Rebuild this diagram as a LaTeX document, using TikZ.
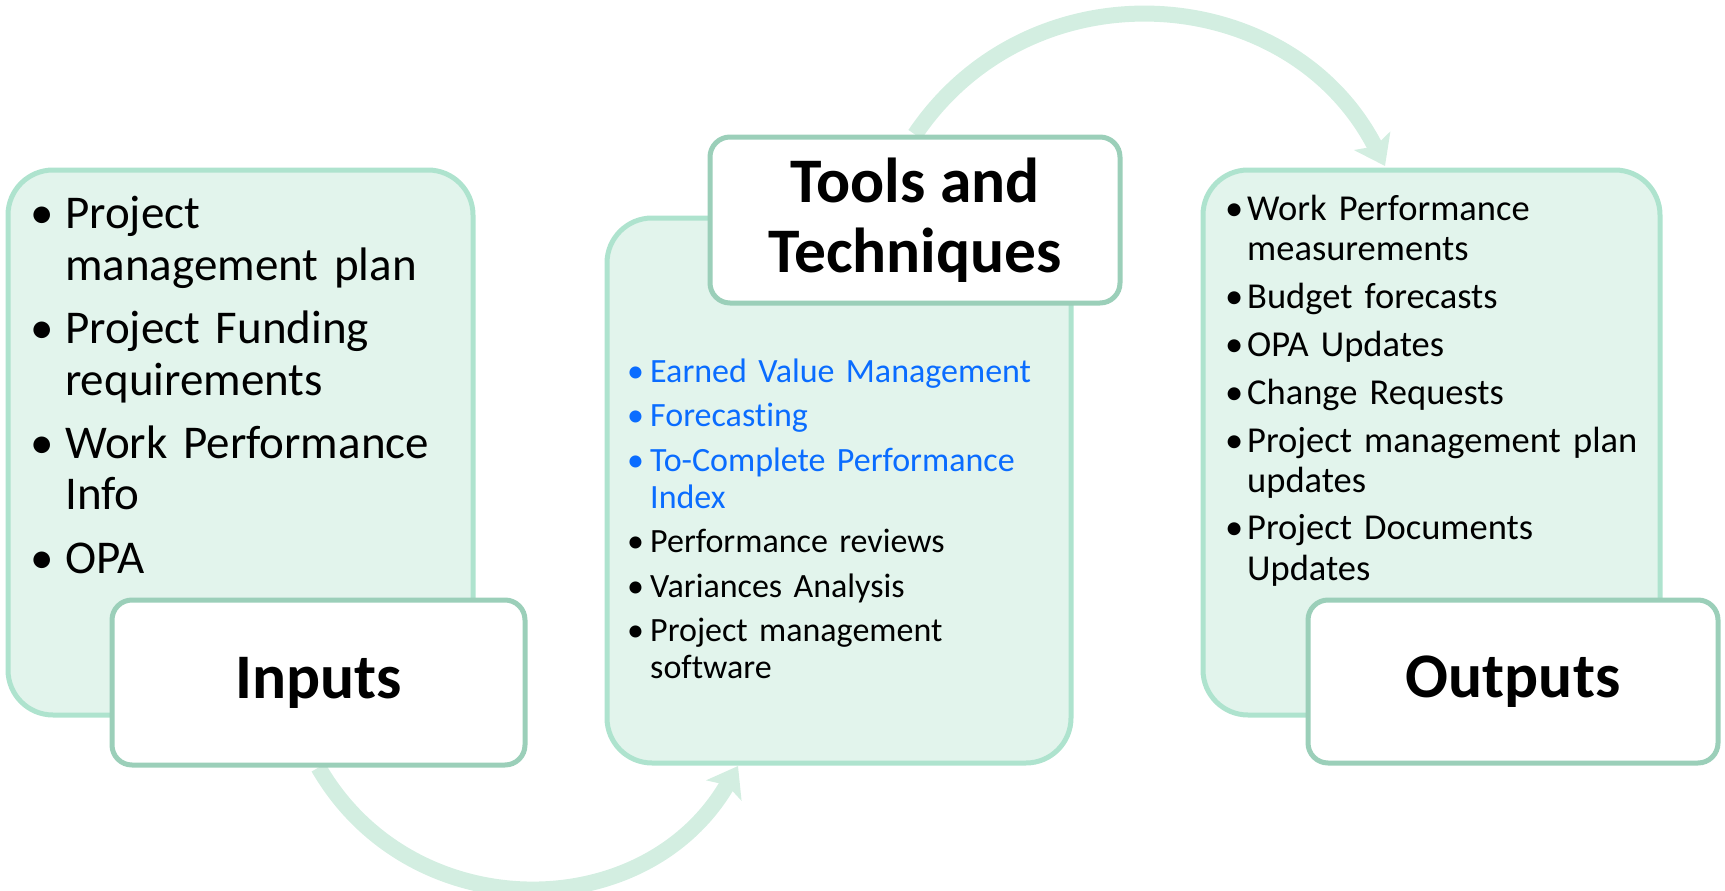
\documentclass[tikz,border=0pt]{standalone}
\usepackage{fontspec}
\setmainfont{Carlito}[Ligatures=NoCommon]
\usetikzlibrary{arrows.meta,backgrounds}

\definecolor{boxfill}{HTML}{E2F4EC}
\definecolor{boxline}{HTML}{AEE3CE}
\definecolor{tagline}{HTML}{9BCFB9}
\definecolor{flowcol}{HTML}{D3EEE1}
\definecolor{itemblue}{HTML}{0A6CFF}

% bullet line with hanging indent
\newcommand{\pitem}[2][0.75em]{\hangindent=#1\hangafter=1\noindent\makebox[#1][l]{\textbullet}#2\par}

\tikzset{
  listbox/.style={draw=boxline, fill=boxfill, line width=5pt, rounded corners=45pt},
  tagbox/.style={draw=tagline, fill=white, line width=5pt, rounded corners=20pt,
    font=\bfseries\fontsize{63.5}{70}\selectfont, align=center},
  itemlist/.style={anchor=base west, inner sep=0pt, align=left},
  flow/.style={draw=flowcol, line width=16pt, -{Stealth[width=40pt,length=28pt,inset=6pt]}},
}

\begin{document}
\begin{tikzpicture}[x=1pt, y=1pt]
  \useasboundingbox (0,0) rectangle (1725,-891);

  % --- Inputs ---
  \node[listbox, minimum width=465pt, minimum height=545pt] (inbox) at (240.5,-442.5) {};
  \node[itemlist, text width=430pt, font=\fontsize{47}{52}\selectfont] (inlist) at (30,-228) {%
    \setlength{\parskip}{11pt}%
    \pitem[35pt]{Project\newline management plan}%
    \pitem[35pt]{Project Funding\newline requirements}%
    \pitem[35pt]{Work Performance\newline Info}%
    \pitem[35pt]{OPA}};
  \node[tagbox, minimum width=413pt, minimum height=165pt] (inlbl) at (318.5,-682.5) {Inputs};

  % --- Tools and Techniques ---
  \node[listbox, minimum width=464pt, minimum height=545pt] (midbox) at (839,-490.5) {};
  \node[itemlist, text width=440pt, font=\fontsize{34}{37}\selectfont] (toollist) at (627,-382) {%
    \setlength{\parskip}{7.5pt}%
    {\color{itemblue}%
    \pitem[23pt]{Earned Value Management}%
    \pitem[23pt]{Forecasting}%
    \pitem[23pt]{To-Complete Performance\newline Index}}%
    \pitem[23pt]{Performance reviews}%
    \pitem[23pt]{Variances Analysis}%
    \pitem[23pt]{Project management\newline software}};
  \node[tagbox, minimum width=410pt, minimum height=166pt] (tlbl) at (915,-220) {Tools and\\Techniques};

  % --- Outputs ---
  \node[listbox, minimum width=457pt, minimum height=545pt] (outbox) at (1431.5,-442.5) {};
  \node[itemlist, text width=440pt, font=\fontsize{36.5}{40}\selectfont] (outlist) at (1225,-220) {%
    \setlength{\parskip}{8pt}%
    \pitem[22pt]{Work Performance\newline measurements}%
    \pitem[22pt]{Budget forecasts}%
    \pitem[22pt]{OPA Updates}%
    \pitem[22pt]{Change Requests}%
    \pitem[22pt]{Project management plan\newline updates}%
    \pitem[22pt]{Project Documents\newline Updates}};
  \node[tagbox, minimum width=410pt, minimum height=163pt] (outlbl) at (1513,-681.5) {Outputs};

  % flow arrows behind the boxes
  \coordinate (toolin) at (738,-766);
  \coordinate (outin) at (1385,-166);
  \begin{pgfonlayer}{background}
    \draw[flow] (inlbl.south) to[out=-60, in=240, looseness=1.13] (toolin);
    \draw[flow] (tlbl.north) to[out=56, in=117, looseness=1.13] (outin);
  \end{pgfonlayer}
\end{tikzpicture}
\end{document}
